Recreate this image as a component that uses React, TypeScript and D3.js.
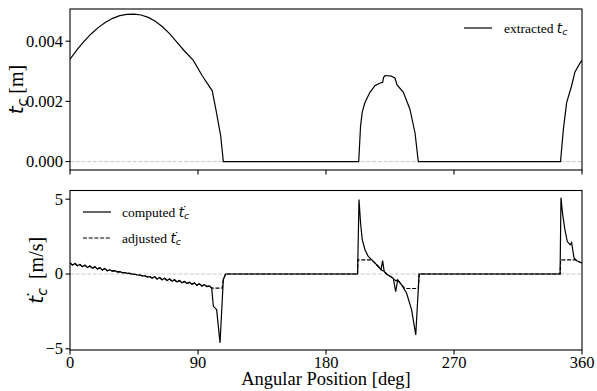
import React from 'react';
import * as d3 from 'd3';

// ---- data ----
const xTicks = [0, 90, 180, 270, 360];
const xTickLabels = ['0', '90', '180', '270', '360'];
const topYTicks = [0, 0.002, 0.004];
const topYTickLabels = ['0.000', '0.002', '0.004'];
const botYTicks = [-5, 0, 5];
const botYTickLabels = ['\u22125', '0', '5'];

// extracted t_c [m]
const tcAngles = [0, 5, 10, 15, 20, 25, 30, 35, 40, 45, 50, 55, 60, 65, 70, 75, 80, 86.7, 93, 100, 103, 106, 107.8,
  203.0, 204.3, 205.5, 207.4, 210.9, 214.4, 218, 219.8, 220.5, 221.5, 226, 228.5, 230, 234.4, 239, 242.6, 244.9,
  344.9, 346.9, 349.2, 352.7, 355, 356.7, 359.1, 360];
const tcValues = [0.00340, 0.00372, 0.00400, 0.00425, 0.00446, 0.00463, 0.00476, 0.00485, 0.00489, 0.00490, 0.00487,
  0.00479, 0.00466, 0.00448, 0.00425, 0.00398, 0.00370, 0.00336, 0.00285, 0.00235, 0.00163, 0.00084, 0,
  0, 0.00118, 0.00165, 0.00196, 0.00230, 0.00252, 0.00261, 0.00263, 0.00280, 0.00286, 0.00284, 0.00277, 0.00255,
  0.00230, 0.00174, 0.00095, 0,
  0, 0.00107, 0.00196, 0.00252, 0.00297, 0.00312, 0.00331, 0.00336];

// computed dt_c/dt [m/s]
const wiggleAngles = [0, 1.75, 3.5, 5.25, 7, 8.75, 10.5, 12.25, 14, 15.75, 17.5, 19.25, 21, 22.75, 24.5, 26.25,
  28, 29.75, 31.5, 33.25, 35, 36.75, 38.5, 40.25, 42, 43.75, 45.5, 47.25, 49, 50.75, 52.5, 54.25, 56, 57.75, 59.5,
  61.25, 63, 64.75, 66.5, 68.25, 70, 71.75, 73.5, 75.25, 77, 78.75, 80.5, 82.25, 84, 85.75, 87.5, 89.25, 91, 92.75,
  94.5, 96.25, 98];
const wiggleValues = [0.74, 0.60, 0.70, 0.55, 0.64, 0.49, 0.59, 0.44, 0.53, 0.38, 0.48, 0.33, 0.42, 0.27, 0.37, 0.22,
  0.28, 0.19, 0.22, 0.14, 0.16, 0.09, 0.10, 0.04, 0.04, -0.01, -0.02, -0.06, -0.07, -0.12, -0.12, -0.19, -0.17, -0.27,
  -0.18, -0.33, -0.23, -0.38, -0.29, -0.43, -0.34, -0.48, -0.39, -0.54, -0.44, -0.59, -0.50, -0.64, -0.55, -0.69,
  -0.60, -0.75, -0.65, -0.80, -0.71, -0.84, -0.80];
const computedTailAngles = [99.6, 100.8, 103.1, 105.5, 107.8, 109.4, 202.2, 203.2, 204.3, 205.5, 207.4, 209.7, 213.3,
  216.8, 218.7, 219.8, 220.9, 222.6, 227.3, 229, 230.4, 233.2, 236.7, 240.2, 243.1, 245.5,
  344.6, 345.2, 346.3, 348, 349.7, 351.6, 352.7, 354.4, 356.3, 360];
const computedTailValues = [-0.93, -2.16, -2.38, -4.6, -0.38, 0, 0, 4.98, 3.4, 2.29, 1.62, 1.17, 0.84,
  0.5, 0.29, 0.89, 0.17, 0, -0.29, -1.18, -0.4, -0.73, -1.29, -2.4, -4.07, 0,
  0, 5.1, 4.07, 2.95, 2.17, 1.95, 2.1, 1.07, 0.89, 0.73];

// adjusted dt_c/dt [m/s]
const adjustedTailAngles = [99.6, 107, 107.8, 109.4, 202.2, 202.4, 210.9, 213.3, 216.8, 218.7, 220.9, 222.6, 227.3,
  229, 230.4, 233.2, 235.5, 244.9, 245.5, 344.6, 345.0, 355.5, 356.3, 360];
const adjustedTailValues = [-0.95, -0.95, -0.38, 0, 0, 0.95, 0.95, 0.84, 0.5, 0.29, 0.17, 0, -0.29,
  -0.45, -0.4, -0.73, -0.97, -0.97, 0, 0, 0.95, 0.95, 0.89, 0.73];

const SERIF = 'Liberation Serif';
const MATH = 'DejaVu Sans';

function zip(a: number[], b: number[]): [number, number][] {
  return a.map((v, i) => [v, b[i]]);
}

export default function App() {
  const W = 597, H = 391;
  const L = 70, R = 582;
  const T0 = 9, T1 = 170;
  const B0 = 190.5, B1 = 350;
  const x = d3.scaleLinear().domain([0, 360]).range([L, R]);
  const yTop = d3.scaleLinear().domain([-0.00028, 0.00507]).range([T1, T0]);
  const yBot = d3.scaleLinear().domain([-5.08, 5.58]).range([B1, B0]);

  const tcData = zip(tcAngles, tcValues);
  const compData = zip([...wiggleAngles, ...computedTailAngles], [...wiggleValues, ...computedTailValues]);
  const adjData = zip([...wiggleAngles, ...adjustedTailAngles], [...wiggleValues, ...adjustedTailValues]);

  const lineTop = d3.line<[number, number]>().x(d => x(d[0])).y(d => yTop(d[1]));
  const lineBot = d3.line<[number, number]>().x(d => x(d[0])).y(d => yBot(d[1]));

  const tickLen = 4.5;
  const tickFs = 16.5;

  // t_c, optionally with a dot; leaves the baseline shifted by `shift(fs, dot)`
  const mathTc = (fs: number, dot: boolean) => (
    <>
      <tspan fontFamily={MATH} fontStyle="italic">t</tspan>
      <tspan fontFamily={MATH} fontStyle="italic" fontSize={fs * 0.7} dy={fs * 0.2}>c</tspan>
      {dot ? <tspan fontFamily={MATH} fontSize={fs * 0.9} dx={-fs * 0.55} dy={-fs * 0.3}>{'\u02D9'}</tspan> : null}
    </>
  );
  const back = (fs: number, dot: boolean) => (dot ? fs * 0.1 : -fs * 0.2);

  return (
    <svg width={W} height={H} style={{ position: 'absolute', left: 0, top: 0, background: '#fff' }}>
      <defs>
        <clipPath id="clipTop"><rect x={L} y={T0} width={R - L} height={T1 - T0} /></clipPath>
        <clipPath id="clipBot"><rect x={L} y={B0} width={R - L} height={B1 - B0} /></clipPath>
      </defs>
      <rect x={0} y={0} width={W} height={H} fill="#fff" />

      {/* zero reference lines */}
      <line x1={L} x2={R} y1={yTop(0)} y2={yTop(0)} stroke="#c8c8c8" strokeWidth={1} strokeDasharray="4,1.7" />
      <line x1={L} x2={R} y1={yBot(0)} y2={yBot(0)} stroke="#c8c8c8" strokeWidth={1} strokeDasharray="4,1.7" />

      {/* data */}
      <path d={lineTop(tcData) || ''} fill="none" stroke="#000" strokeWidth={1.2} clipPath="url(#clipTop)" />
      <path d={lineBot(compData) || ''} fill="none" stroke="#000" strokeWidth={1.2} clipPath="url(#clipBot)" />
      <path d={lineBot(adjData) || ''} fill="none" stroke="#000" strokeWidth={1.2} strokeDasharray="4,1.7" clipPath="url(#clipBot)" />

      {/* frames */}
      <rect x={L} y={T0} width={R - L} height={T1 - T0} fill="none" stroke="#000" strokeWidth={1.1} />
      <rect x={L} y={B0} width={R - L} height={B1 - B0} fill="none" stroke="#000" strokeWidth={1.1} />

      {/* x ticks */}
      {xTicks.map((t, i) => (
        <g key={'xt' + i}>
          <line x1={x(t)} x2={x(t)} y1={T1} y2={T1 + tickLen} stroke="#000" strokeWidth={1.1} />
          <line x1={x(t)} x2={x(t)} y1={B1} y2={B1 + tickLen} stroke="#000" strokeWidth={1.1} />
          <text x={x(t)} y={368} textAnchor="middle" fontFamily={SERIF} fontSize={tickFs}>{xTickLabels[i]}</text>
        </g>
      ))}
      {/* y ticks top */}
      {topYTicks.map((t, i) => (
        <g key={'yt' + i}>
          <line x1={L - tickLen} x2={L} y1={yTop(t)} y2={yTop(t)} stroke="#000" strokeWidth={1.1} />
          <text x={L - 7} y={yTop(t) + 5.5} textAnchor="end" fontFamily={SERIF} fontSize={tickFs}>{topYTickLabels[i]}</text>
        </g>
      ))}
      {/* y ticks bottom */}
      {botYTicks.map((t, i) => (
        <g key={'yb' + i}>
          <line x1={L - tickLen} x2={L} y1={yBot(t)} y2={yBot(t)} stroke="#000" strokeWidth={1.1} />
          <text x={L - 7} y={yBot(t) + 5.5} textAnchor="end" fontFamily={SERIF} fontSize={tickFs}>{botYTickLabels[i]}</text>
        </g>
      ))}

      {/* axis labels */}
      <text x={326} y={385} textAnchor="middle" fontFamily={SERIF} fontSize={18.5}>Angular Position [deg]</text>
      <text transform={`translate(23,${(T0 + T1) / 2}) rotate(-90)`} textAnchor="middle" fontFamily={SERIF} fontSize={20}>
        {mathTc(20, false)}
        <tspan dy={back(20, false)}> [m]</tspan>
      </text>
      <text transform={`translate(43,${(B0 + B1) / 2}) rotate(-90)`} textAnchor="middle" fontFamily={SERIF} fontSize={20}>
        {mathTc(20, true)}
        <tspan dx={20 * 0.3} dy={back(20, true)}> [m/s]</tspan>
      </text>

      {/* legend top */}
      <line x1={464} x2={492} y1={28} y2={28} stroke="#000" strokeWidth={1.2} />
      <text x={504} y={32.5} fontFamily={SERIF} fontSize={13.5}>
        extracted {mathTc(13.5, false)}
      </text>

      {/* legend bottom */}
      <line x1={83} x2={111} y1={212} y2={212} stroke="#000" strokeWidth={1.2} />
      <text x={122} y={216.5} fontFamily={SERIF} fontSize={13.5}>
        computed {mathTc(13.5, true)}
      </text>
      <line x1={83} x2={111} y1={238} y2={238} stroke="#000" strokeWidth={1.2} strokeDasharray="4,1.7" />
      <text x={122} y={242.5} fontFamily={SERIF} fontSize={13.5}>
        adjusted {mathTc(13.5, true)}
      </text>
    </svg>
  );
}
